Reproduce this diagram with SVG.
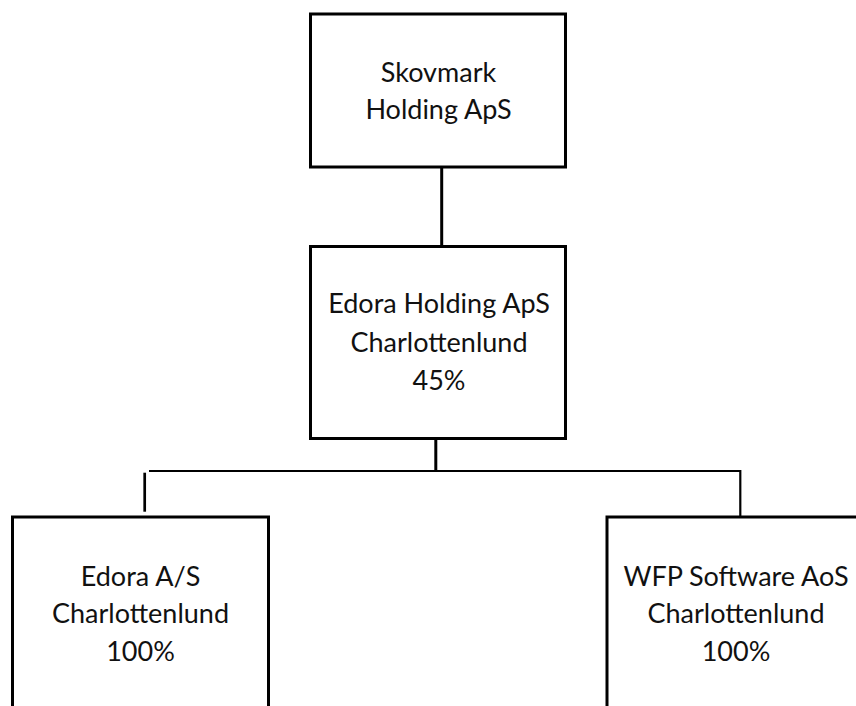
<svg xmlns="http://www.w3.org/2000/svg" width="856" height="706" viewBox="0 0 856 706">
<style>
.box{fill:#fff;stroke:#000;stroke-width:3}
.lbl{font-family:Lato,"Liberation Sans",sans-serif;font-size:27px;fill:#111;text-anchor:middle}
.c{stroke:#000;fill:none}
</style>
<rect width="856" height="706" fill="#fff"/>
<g id="connectors">
<line class="c" x1="441.7" y1="166" x2="441.7" y2="246" stroke-width="3"/>
<line class="c" x1="435.8" y1="439" x2="435.8" y2="471" stroke-width="3"/>
<line class="c" x1="149" y1="471" x2="741" y2="471" stroke-width="2.2"/>
<line class="c" x1="144.7" y1="472.7" x2="144.7" y2="511.7" stroke-width="2.7"/>
<line class="c" x1="740.3" y1="470" x2="740.3" y2="517" stroke-width="2.2"/>
</g>
<g id="skovmark">
<rect class="box" x="310.5" y="14" width="255" height="153"/>
<text class="lbl" x="438.5" y="82">Skovmark</text>
<text class="lbl" x="438.5" y="118.5">Holding ApS</text>
</g>
<g id="edora-holding">
<rect class="box" x="310.5" y="246.5" width="255" height="192"/>
<text class="lbl" x="439" y="313">Edora Holding ApS</text>
<text class="lbl" x="439" y="351.5">Charlottenlund</text>
<text class="lbl" x="439" y="389.5">45%</text>
</g>
<g id="edora-as">
<rect class="box" x="12.5" y="517" width="256" height="200"/>
<text class="lbl" x="140.5" y="585.5">Edora A/S</text>
<text class="lbl" x="140.5" y="623">Charlottenlund</text>
<text class="lbl" x="140.5" y="660.5">100%</text>
</g>
<g id="wfp-software">
<rect class="box" x="607" y="517" width="256" height="200"/>
<text class="lbl" x="736" y="585.5">WFP Software AoS</text>
<text class="lbl" x="736" y="623">Charlottenlund</text>
<text class="lbl" x="736" y="660.5">100%</text>
</g>
</svg>
